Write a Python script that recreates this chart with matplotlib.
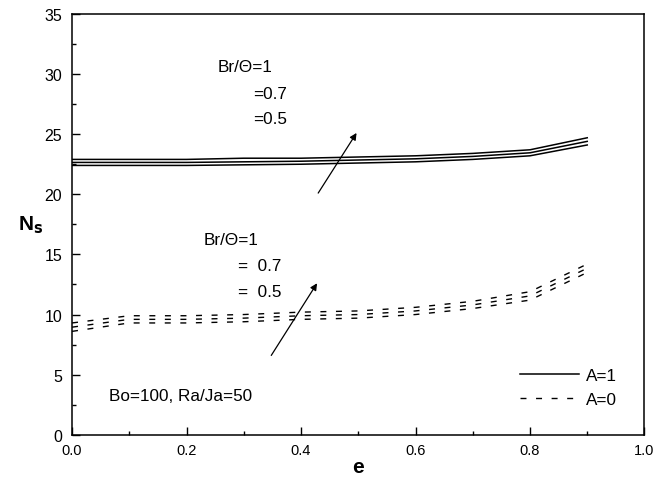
import numpy as np
import matplotlib.pyplot as plt
from matplotlib.ticker import MultipleLocator

plt.rcParams['font.family'] = ['Liberation Sans', 'DejaVu Sans']

e = [0.0, 0.1, 0.2, 0.3, 0.4, 0.5, 0.6, 0.7, 0.8, 0.9]

# A=1 (solid), Br/Theta = 1, 0.7, 0.5
ns_a1_br10 = [22.9, 22.9, 22.9, 23.0, 23.0, 23.1, 23.2, 23.4, 23.7, 24.7]
ns_a1_br07 = [22.65, 22.65, 22.65, 22.7, 22.75, 22.85, 22.95, 23.15, 23.45, 24.4]
ns_a1_br05 = [22.4, 22.4, 22.4, 22.45, 22.5, 22.6, 22.7, 22.9, 23.2, 24.1]

# A=0 (dashed)
ns_a0_br10 = [9.3, 9.9, 9.9, 10.0, 10.2, 10.3, 10.6, 11.1, 11.9, 14.2]
ns_a0_br07 = [8.95, 9.6, 9.6, 9.7, 9.9, 10.0, 10.3, 10.8, 11.55, 13.85]
ns_a0_br05 = [8.6, 9.3, 9.3, 9.4, 9.6, 9.7, 10.0, 10.5, 11.2, 13.5]

fig = plt.figure(figsize=(6.61, 4.81), dpi=100)
ax = fig.add_axes([0.109, 0.094, 0.866, 0.875])

for i, ys in enumerate([ns_a1_br10, ns_a1_br07, ns_a1_br05]):
    ax.plot(e, ys, color='black', lw=1.1, label='A=1' if i == 0 else None)
for i, ys in enumerate([ns_a0_br10, ns_a0_br07, ns_a0_br05]):
    ax.plot(e, ys, color='black', lw=1.0, dashes=(4.3, 6.9),
            label='A=0' if i == 0 else None)

ax.set_xlim(0, 1.0)
ax.set_ylim(0, 35)
ax.xaxis.set_major_locator(MultipleLocator(0.2))
ax.xaxis.set_minor_locator(MultipleLocator(0.1))
ax.yaxis.set_major_locator(MultipleLocator(5))
ax.yaxis.set_minor_locator(MultipleLocator(2.5))
ax.xaxis.set_major_formatter(plt.FuncFormatter(lambda v, p: f'{v:.1f}'))
ax.tick_params(which='both', direction='in', top=False, right=False, width=1.0)
ax.tick_params(which='major', length=6)
ax.tick_params(which='minor', length=3)
ax.tick_params(axis='x', labelsize=10.5, pad=6)
ax.tick_params(axis='y', labelsize=11.5, pad=7)
for s in ax.spines.values():
    s.set_linewidth(1.1)

ax.set_xlabel('e', fontsize=15, fontweight='bold', labelpad=0)
ax.set_ylabel('N$_\\mathbf{s}$', fontsize=15, fontweight='bold', rotation=0)
ax.yaxis.set_label_coords(-0.072, 0.475)

fs = 12.3
ax.text(0.2535, 30.6, 'Br/\u0398=1', fontsize=fs, va='center')
ax.text(0.316, 28.4, '=0.7', fontsize=fs, va='center')
ax.text(0.316, 26.3, '=0.5', fontsize=fs, va='center')
ax.annotate('', xy=(0.497, 25.1), xytext=(0.43, 20.1),
            arrowprops=dict(arrowstyle='-|>', color='black', lw=0.9,
                            mutation_scale=10, shrinkA=0, shrinkB=0))

ax.text(0.229, 16.2, 'Br/\u0398=1', fontsize=fs, va='center')
ax.text(0.290, 14.1, '=  0.7', fontsize=fs, va='center')
ax.text(0.290, 11.9, '=  0.5', fontsize=fs, va='center')
ax.annotate('', xy=(0.428, 12.6), xytext=(0.348, 6.6),
            arrowprops=dict(arrowstyle='-|>', color='black', lw=0.9,
                            mutation_scale=10, shrinkA=0, shrinkB=0))

ax.text(0.065, 3.25, 'Bo=100, Ra/Ja=50', fontsize=fs, va='center')

ax.legend(loc='lower left', bbox_to_anchor=(0.755, 0.03), frameon=False,
          fontsize=fs, handlelength=3.5, handletextpad=0.4, labelspacing=0.5)

fig.savefig('out.png', dpi=100)
